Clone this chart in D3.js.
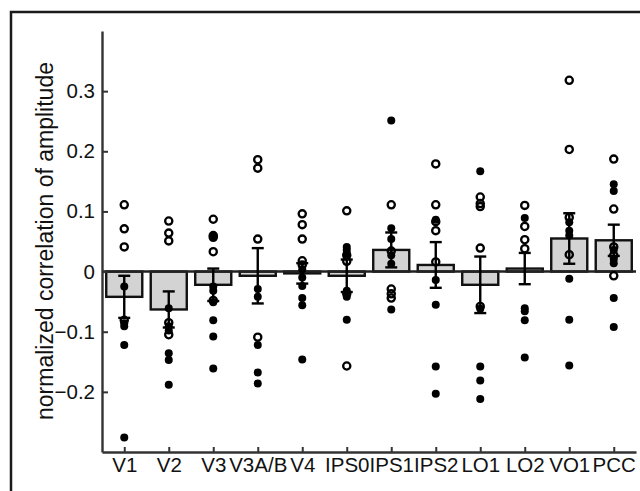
<!DOCTYPE html>
<html>
<head>
<meta charset="utf-8">
<script src="https://cdn.jsdelivr.net/npm/d3@7"></script>
<style>
  html, body { margin: 0; padding: 0; background: #fff; }
  svg { display: block; }
  text { font-family: "Liberation Sans", Arial, Helvetica, sans-serif; fill: #111; }
</style>
</head>
<body>
<svg id="chart" width="640" height="491"></svg>
<script>
const categories = ["V1","V2","V3","V3A/B","V4","IPS0","IPS1","IPS2","LO1","LO2","VO1","PCC"];
const means = [-0.042, -0.063, -0.022, -0.007, -0.003, -0.007, 0.036, 0.011, -0.022, 0.005, 0.055, 0.052];
const sems  = [0.035, 0.030, 0.027, 0.046, 0.017, 0.027, 0.029, 0.038, 0.047, 0.026, 0.042, 0.026];

const openPoints = [
  [0.111, 0.071, 0.041, -0.081],
  [0.084, 0.064, 0.051, -0.085, -0.105],
  [0.087, 0.060, 0.057, 0.033, -0.048],
  [0.186, 0.172, 0.054, -0.109],
  [0.096, 0.078, 0.054, 0.018, 0.011],
  [0.101, 0.027, 0.017, -0.037, -0.157],
  [0.111, 0.034, -0.029, -0.037, -0.044],
  [0.179, 0.111, 0.083, 0.068, 0.016],
  [0.124, 0.113, 0.108, 0.039, -0.058],
  [0.110, 0.075, 0.053, 0.038],
  [0.318, 0.203, 0.090, 0.028],
  [0.187, 0.104, 0.041, 0.027, -0.007]
];
const filledPoints = [
  [-0.025, -0.086, -0.091, -0.122, -0.276],
  [-0.061, -0.091, -0.098, -0.136, -0.147, -0.188],
  [0.059, -0.025, -0.032, -0.051, -0.081, -0.108, -0.161],
  [-0.029, -0.042, -0.122, -0.168, -0.186],
  [0.004, -0.010, -0.024, -0.044, -0.056, -0.146],
  [0.041, 0.036, 0.030, -0.032, -0.042, -0.080],
  [0.251, 0.072, 0.054, 0.027, 0.013, -0.063],
  [0.086, -0.014, -0.055, -0.158, -0.203],
  [0.167, -0.062, -0.158, -0.181, -0.212],
  [0.089, -0.061, -0.066, -0.081, -0.143],
  [0.082, 0.068, 0.060, -0.012, -0.080, -0.156],
  [0.145, 0.134, 0.036, 0.021, 0.014, -0.044, -0.092]
];
const yTicks = [-0.2, -0.1, 0, 0.1, 0.2, 0.3];
const yTickLabels = ["\u22120.2", "\u22120.1", "0", "0.1", "0.2", "0.3"];
const yLabel = "normalized correlation of amplitude";

const svg = d3.select("#chart");
const mLeft = 102, mRight = 636, mTop = 31, mBottom = 452;

const x = d3.scalePoint().domain(categories).range([mLeft, mRight]).padding(0.5);
const step = x.step();
const barW = step * 0.81;
const y = d3.scaleLinear().domain([-0.3, 0.4]).range([mBottom, mTop]);

// outer frame
svg.append("rect").attr("x", 11).attr("y", 12).attr("width", 660).attr("height", 520)
  .attr("fill", "none").attr("stroke", "#1a1a1a").attr("stroke-width", 2.5);

const data = categories.map((c, i) => ({c, m: means[i], s: sems[i], open: openPoints[i], filled: filledPoints[i]}));

// bars
svg.append("g").selectAll("rect").data(data).join("rect")
  .attr("x", d => x(d.c) - barW / 2)
  .attr("width", barW)
  .attr("y", d => Math.min(y(d.m), y(0)))
  .attr("height", d => Math.abs(y(d.m) - y(0)))
  .attr("fill", "#d3d3d3")
  .attr("stroke", "#111")
  .attr("stroke-width", 2.4);

// zero line
svg.append("line").attr("x1", mLeft).attr("x2", mRight).attr("y1", y(0)).attr("y2", y(0))
  .attr("stroke", "#222").attr("stroke-width", 2.4);

// points
const pts = svg.append("g");
data.forEach(d => {
  pts.selectAll(null).data(d.filled).join("circle")
    .attr("cx", x(d.c)).attr("cy", v => y(v)).attr("r", 4).attr("fill", "#000");
  pts.selectAll(null).data(d.open).join("circle")
    .attr("cx", x(d.c)).attr("cy", v => y(v)).attr("r", 3.6)
    .attr("fill", "none").attr("stroke", "#000").attr("stroke-width", 2.3);
});

// error bars
const eb = svg.append("g").attr("stroke", "#000").attr("stroke-width", 2.4);
data.forEach(d => {
  const cx = x(d.c);
  eb.append("line").attr("x1", cx).attr("x2", cx).attr("y1", y(d.m + d.s)).attr("y2", y(d.m - d.s));
  [d.m + d.s, d.m - d.s].forEach(v => {
    eb.append("line").attr("x1", cx - 6).attr("x2", cx + 6).attr("y1", y(v)).attr("y2", y(v));
  });
});

// axes
const yAxis = d3.axisLeft(y).tickValues(yTicks).tickFormat((d, i) => yTickLabels[i])
  .tickSizeInner(-6).tickSizeOuter(0).tickPadding(7);
const gy = svg.append("g").attr("transform", `translate(${mLeft},0)`).call(yAxis);
gy.select(".domain").attr("stroke", "#333").attr("stroke-width", 2.4);
gy.selectAll(".tick line").attr("stroke", "#333").attr("stroke-width", 2);
gy.selectAll(".tick text").attr("font-size", 20.5).attr("fill", "#111");

const xAxis = d3.axisBottom(x).tickSizeInner(-5).tickSizeOuter(0).tickPadding(5);
const gx = svg.append("g").attr("transform", `translate(0,${mBottom})`).call(xAxis);
gx.select(".domain").attr("stroke", "#333").attr("stroke-width", 2.4);
gx.selectAll(".tick line").attr("stroke", "#333").attr("stroke-width", 2);
gx.selectAll(".tick text").attr("font-size", 20.5).attr("fill", "#111");

// y label
svg.append("text")
  .attr("transform", `translate(53,241) rotate(-90)`)
  .attr("text-anchor", "middle")
  .attr("font-size", 23)
  .text(yLabel);
</script>
</body>
</html>
